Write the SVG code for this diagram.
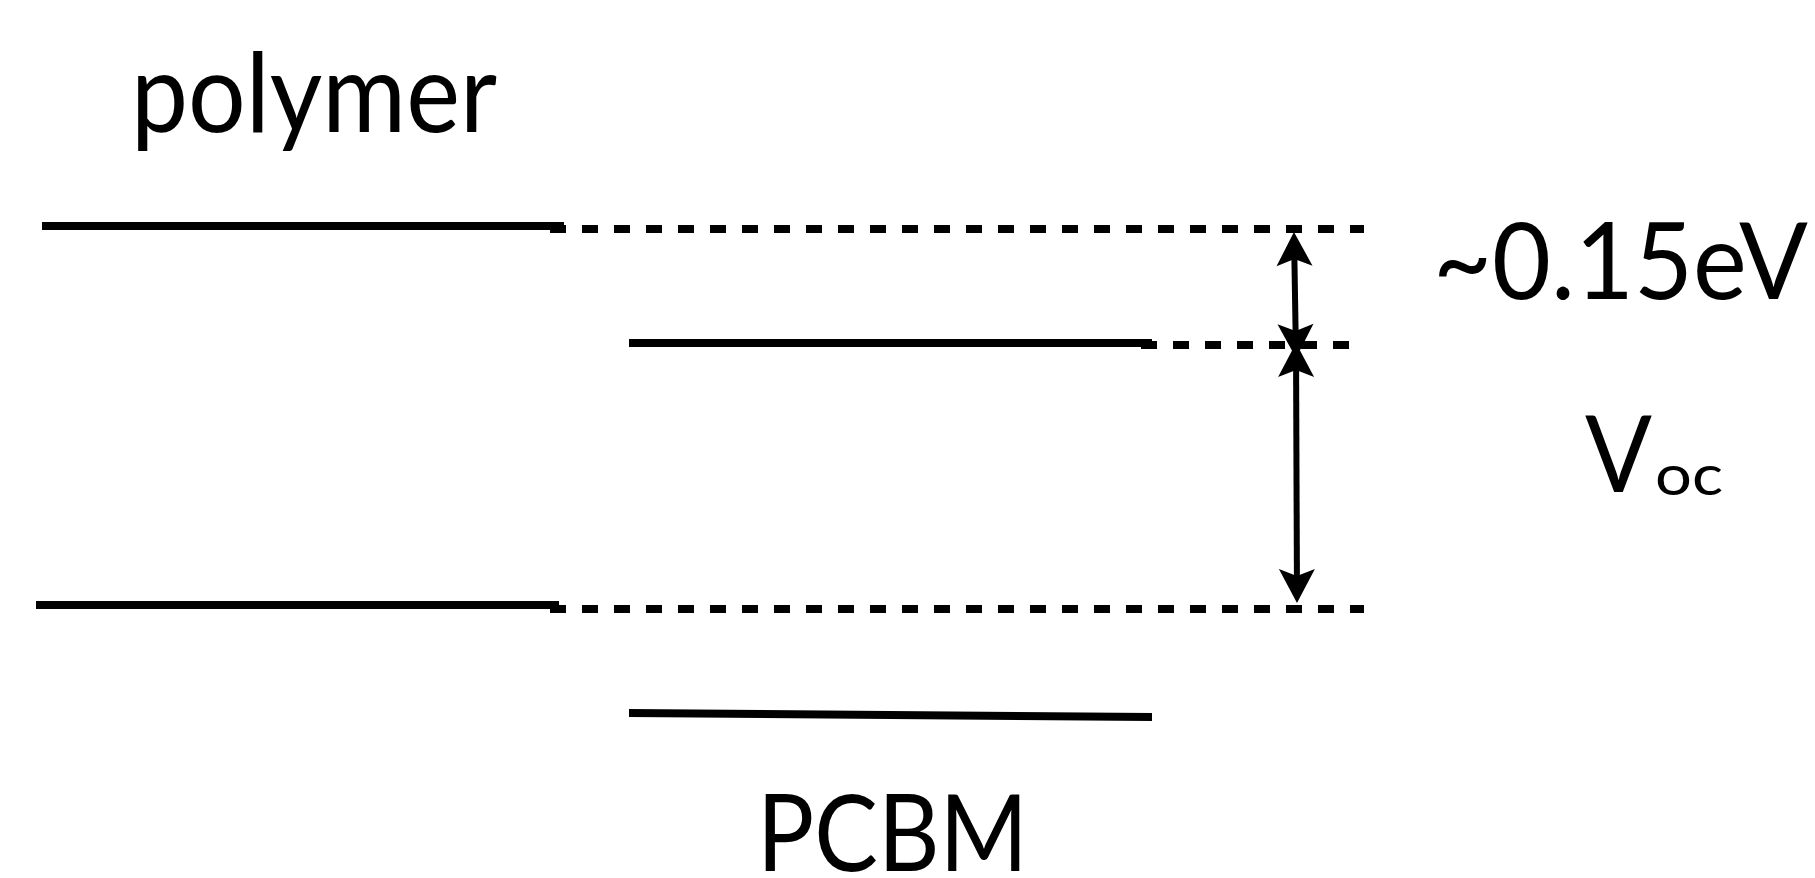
<svg xmlns="http://www.w3.org/2000/svg" width="1815" height="878" viewBox="0 0 1815 878">
  <style>
    .lvl { stroke: #000; stroke-width: 8; fill: none; }
    .dash { stroke: #000; stroke-width: 8; fill: none; stroke-dasharray: 16 16; }
    .arr { stroke: #000; stroke-width: 6; fill: none; marker-start: url(#head); marker-end: url(#head); }
    .lbl { font-family: Lato, "Liberation Sans", sans-serif; fill: #000; }
  </style>
  <defs>
    <marker id="head" markerUnits="userSpaceOnUse" orient="auto-start-reverse" refX="0" refY="0" markerWidth="40" markerHeight="40" overflow="visible">
      <path d="M27,0 L-7,-18 L0,0 L-7,18 Z" fill="#000"/>
    </marker>
  </defs>
  <rect width="1815" height="878" fill="#fff"/>

  <g id="polymer-lumo">
    <line class="lvl" x1="42" y1="226" x2="564" y2="226"/>
  </g>
  <g id="polymer-homo">
    <line class="lvl" x1="36" y1="605" x2="559" y2="605"/>
  </g>
  <g id="pcbm-lumo">
    <line class="lvl" x1="629" y1="343" x2="1152" y2="343"/>
  </g>
  <g id="pcbm-homo">
    <line class="lvl" x1="629" y1="713" x2="1152" y2="717"/>
  </g>

  <g id="connectors">
    <line class="dash" x1="550" y1="229" x2="1364" y2="229"/>
    <line class="dash" x1="1141" y1="345" x2="1349" y2="345"/>
    <line class="dash" x1="550" y1="609" x2="1364" y2="609"/>
    <line class="arr" x1="1294.4" y1="259" x2="1295.6" y2="331"/>
    <line class="arr" x1="1296.1" y1="370" x2="1296.9" y2="576"/>
  </g>

  <g id="label-polymer">
    <text class="lbl" x="131" y="132" font-size="110" textLength="366" lengthAdjust="spacingAndGlyphs">polymer</text>
  </g>
  <g id="label-pcbm">
    <text class="lbl" x="757" y="871" font-size="107" textLength="271" lengthAdjust="spacingAndGlyphs">PCBM</text>
  </g>
  <g id="label-offset">
    <text class="lbl" x="1433" y="299" font-size="107" textLength="375" lengthAdjust="spacingAndGlyphs">~0.15eV</text>
  </g>
  <g id="label-voc">
    <text class="lbl" x="1585" y="492" font-size="107" textLength="67" lengthAdjust="spacingAndGlyphs">V</text>
    <text class="lbl" x="1655" y="495" font-size="56" textLength="68" lengthAdjust="spacingAndGlyphs">oc</text>
  </g>
</svg>
